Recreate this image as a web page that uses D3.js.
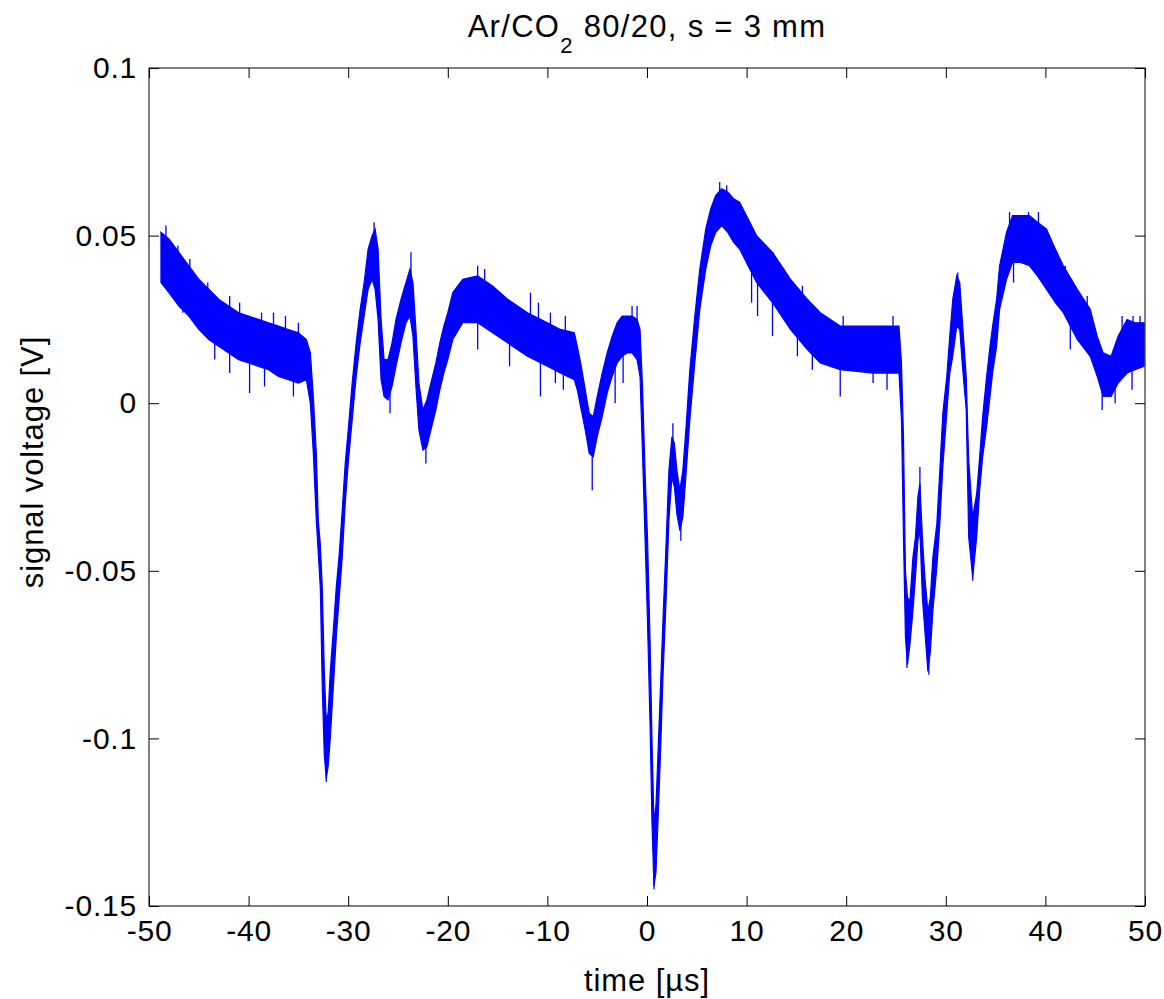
<!DOCTYPE html>
<html>
<head>
<meta charset="utf-8">
<script src="https://cdn.jsdelivr.net/npm/d3@7"></script>
<style>
  html, body { margin: 0; padding: 0; background: #fff; }
  svg { display: block; font-family: 'Liberation Sans', Arial, sans-serif; }
  .axis path { display: none; }
  .axis line { stroke: #000; }
  .axis text { font-size: 30px; fill: #000; letter-spacing: 0.8px; }
</style>
</head>
<body>
<div id="chart"></div>
<script>
// values: time in µs, band of the noisy trace in V
const time = [-48.8, -48, -47, -46, -45, -44, -43, -42, -41, -40, -39, -38, -37, -36, -35, -34.2,
  -33.8, -33.5, -33.2, -33.0, -32.8, -32.6, -32.4, -32.2, -32.0, -31.8, -31.5, -31.2, -30.9, -30.6, -30.3, -30.0,
  -29.6, -29.2, -28.8, -28.4, -28.0, -27.6, -27.3, -27.0, -26.7, -26.4, -26.0, -25.6, -25.2, -24.7, -24.2, -23.8,
  -23.5, -23.2, -22.9, -22.5, -22.1, -21.7, -21.2, -20.8, -20.4, -20.0, -19.5, -18.5, -17, -15.5, -14, -12, -10,
  -8.7, -7.3, -7.0, -6.6, -6.2, -5.8, -5.4, -5.0, -4.5, -4.0, -3.5, -3.0, -2.5, -2.0, -1.5, -1.0, -0.7, -0.45,
  -0.2, 0.05, 0.3, 0.5, 0.7, 0.9, 1.1, 1.35, 1.6, 1.9, 2.2, 2.5, 2.75, 3.0, 3.3, 3.6, 3.9, 4.3, 4.8, 5.3, 5.9,
  6.4, 6.9, 7.5, 8.1, 8.7, 9.3, 11, 12.6, 14.4, 16.1, 17.4, 19.4, 22.7, 25.3, 25.55, 25.75, 25.95, 26.15, 26.4,
  26.7, 26.95, 27.2, 27.4, 27.65, 27.9, 28.2, 28.45, 28.7, 29.1, 29.4, 29.7, 30.1, 30.4, 30.7, 31.1, 31.4, 31.7,
  32.05, 32.3, 32.7, 33.1, 33.4, 33.7, 34.1, 34.4, 34.7, 35.1, 35.4, 36.1, 36.7, 37.5, 38.4, 39.2, 40.1, 41.0,
  41.8, 43.2, 44.5, 45.2, 45.8, 46.6, 47.3, 48.2, 49, 49.9]

const lower = [0.036, 0.033, 0.029, 0.026, 0.022, 0.019, 0.017, 0.015, 0.013, 0.012, 0.011, 0.010, 0.008, 0.007, 0.006, 0.007,
  0.000, -0.015, -0.035, -0.045, -0.055, -0.085, -0.105, -0.112, -0.108, -0.100, -0.085, -0.070, -0.058, -0.046, -0.030, -0.018,
  -0.005, 0.008, 0.018, 0.026, 0.034, 0.037, 0.034, 0.025, 0.007, 0.002, 0.001, 0.005, 0.011, 0.018, 0.024, 0.026,
  0.020, 0.005, -0.008, -0.014, -0.013, -0.008, -0.002, 0.004, 0.009, 0.013, 0.019, 0.024, 0.024, 0.021, 0.018, 0.014, 0.011,
  0.009, 0.007, 0.004, -0.002, -0.008, -0.015, -0.016, -0.010, -0.004, 0.003, 0.008, 0.012, 0.014, 0.015, 0.015, 0.013, 0.008, -0.015,
  -0.040, -0.065, -0.095, -0.125, -0.144, -0.140, -0.125, -0.105, -0.082, -0.060, -0.035, -0.022, -0.025, -0.033, -0.038, -0.034, -0.022, -0.005, 0.012, 0.028, 0.040,
  0.047, 0.051, 0.053, 0.051, 0.048, 0.046, 0.036, 0.030, 0.022, 0.016, 0.012, 0.010, 0.009, 0.009, -0.005, -0.040, -0.070, -0.078, -0.072,
  -0.062, -0.052, -0.041, -0.038, -0.058, -0.068, -0.080, -0.074, -0.062, -0.049, -0.036, -0.019, -0.003, 0.009, 0.014, 0.023, 0.022, 0.010,
  -0.002, -0.040, -0.052, -0.040, -0.026, -0.016, -0.007, 0.001, 0.009, 0.017, 0.028, 0.037, 0.042, 0.042, 0.041, 0.038, 0.034, 0.030,
  0.027, 0.019, 0.014, 0.008, 0.002, 0.002, 0.006, 0.009, 0.010, 0.011]

const upper = [0.051, 0.049, 0.045, 0.041, 0.037, 0.034, 0.031, 0.029, 0.027, 0.026, 0.025, 0.024, 0.023, 0.022, 0.021, 0.019,
  0.015, 0.002, -0.015, -0.035, -0.042, -0.055, -0.080, -0.095, -0.092, -0.080, -0.068, -0.055, -0.045, -0.032, -0.018, -0.008,
  0.006, 0.018, 0.028, 0.036, 0.046, 0.050, 0.052, 0.046, 0.025, 0.013, 0.013, 0.018, 0.025, 0.031, 0.036, 0.040,
  0.036, 0.022, 0.006, -0.002, 0.001, 0.006, 0.012, 0.018, 0.023, 0.027, 0.033, 0.037, 0.038, 0.035, 0.031, 0.027, 0.024,
  0.022, 0.021, 0.017, 0.011, 0.004, -0.003, -0.004, 0.002, 0.009, 0.015, 0.020, 0.024, 0.026, 0.026, 0.026, 0.025, 0.022, 0.005,
  -0.020, -0.040, -0.070, -0.100, -0.125, -0.120, -0.105, -0.085, -0.065, -0.043, -0.020, -0.010, -0.012, -0.020, -0.026, -0.020, -0.008, 0.010, 0.026, 0.040, 0.052,
  0.058, 0.062, 0.064, 0.063, 0.061, 0.060, 0.050, 0.045, 0.037, 0.031, 0.027, 0.023, 0.023, 0.023, 0.012, -0.010, -0.050, -0.058, -0.059,
  -0.046, -0.040, -0.028, -0.024, -0.040, -0.052, -0.062, -0.058, -0.046, -0.036, -0.020, -0.003, 0.008, 0.020, 0.031, 0.038, 0.036, 0.023,
  0.008, -0.017, -0.034, -0.027, -0.016, -0.004, 0.008, 0.016, 0.023, 0.031, 0.041, 0.051, 0.056, 0.056, 0.056, 0.054, 0.052, 0.046,
  0.041, 0.034, 0.028, 0.020, 0.015, 0.014, 0.020, 0.025, 0.024, 0.024]

// single-sample excursions that stick out of the band: [time, value]
const spikes = [[-48.3, 0.053], [-47.1, 0.047], [-45.9, 0.043], [-44.1, 0.036], [-41.9, 0.032], [-40.9, 0.030],
  [-38.7, 0.027], [-37.5, 0.027], [-36.3, 0.026], [-35.0, 0.024], [-46.6, 0.027], [-43.4, 0.013], [-41.9, 0.009],
  [-39.9, 0.003], [-38.4, 0.005], [-35.5, 0.002], [-32.2, -0.113], [-27.4, 0.054], [-25.8, -0.003], [-23.7, 0.045],
  [-22.2, -0.018], [-17.0, 0.041], [-16.3, 0.040], [-17.0, 0.016], [-13.8, 0.011], [-11.7, 0.033], [-10.9, 0.030],
  [-10.7, 0.002], [-9.7, 0.027], [-9.2, 0.006], [-8.4, 0.004], [-8.2, 0.026], [-5.5, -0.026], [-3.2, 0.000],
  [-2.4, 0.006], [-1.5, 0.029], [-1.0, 0.029], [0.7, -0.145], [2.6, -0.006], [3.4, -0.041], [7.3, 0.066], [8.0, 0.065],
  [10.5, 0.030], [10.6, 0.052], [11.1, 0.026], [11.5, 0.048], [12.6, 0.020], [12.7, 0.045], [13.5, 0.041], [15.1, 0.014],
  [15.6, 0.035], [16.6, 0.010], [19.4, 0.002], [19.7, 0.026], [22.7, 0.006], [24.1, 0.004], [24.7, 0.026],
  [26.1, -0.079], [27.4, -0.019], [28.3, -0.081], [31.2, 0.039], [32.7, -0.053], [36.4, 0.057], [36.8, 0.036],
  [38.3, 0.057], [39.3, 0.057], [39.7, 0.036], [42.0, 0.041], [42.5, 0.016], [44.2, 0.032], [45.7, -0.002],
  [47.0, 0.000], [47.7, 0.026], [48.7, 0.004], [48.8, 0.026], [49.5, 0.026]]

const xTicks = [-50, -40, -30, -20, -10, 0, 10, 20, 30, 40, 50]
const yTicks = [-0.15, -0.1, -0.05, 0, 0.05, 0.1]

const W = 1164
const H = 999
const box = { left: 149, right: 1145, top: 68, bottom: 906 }

const x = d3.scaleLinear().domain([-50, 50]).range([box.left, box.right])
const y = d3.scaleLinear().domain([-0.15, 0.1]).range([box.bottom, box.top])

const svg = d3.select('#chart').append('svg')
  .attr('width', W)
  .attr('height', H)

const trace = time.map((t, i) => ({ t, lo: lower[i], hi: upper[i] }))

// the trace itself, drawn as the band that the noise fills
svg.append('path')
  .datum(trace)
  .attr('d', d3.area()
    .x(d => x(d.t))
    .y0(d => y(d.lo))
    .y1(d => y(d.hi)))
  .attr('fill', '#0000ff')
  .attr('stroke', '#0000ff')
  .attr('stroke-width', 1.2)

// spikes start from the middle of the band at that time
const bisect = d3.bisector(d => d.t).left
const bandMid = (t) => {
  const i = Math.max(1, Math.min(trace.length - 1, bisect(trace, t)))
  const a = trace[i - 1]
  const b = trace[i]
  const k = (t - a.t) / (b.t - a.t)
  return ((a.lo + a.hi) / 2) * (1 - k) + ((b.lo + b.hi) / 2) * k
}

svg.append('g')
  .selectAll('line')
  .data(spikes)
  .enter().append('line')
  .attr('x1', d => x(d[0]))
  .attr('x2', d => x(d[0]))
  .attr('y1', d => y(bandMid(d[0])))
  .attr('y2', d => y(d[1]))
  .attr('stroke', '#0000ff')
  .attr('stroke-width', 1.3)

// axes, MATLAB style: ticks pointing in on all four sides
svg.append('g')
  .attr('class', 'axis')
  .attr('transform', `translate(0,${box.bottom})`)
  .call(d3.axisBottom(x).tickValues(xTicks).tickSizeInner(-10).tickSizeOuter(0).tickPadding(14).tickFormat(d3.format('d')))

svg.append('g')
  .attr('class', 'axis')
  .attr('transform', `translate(0,${box.top})`)
  .call(d3.axisTop(x).tickValues(xTicks).tickSizeInner(-10).tickSizeOuter(0).tickFormat(''))

svg.append('g')
  .attr('class', 'axis')
  .attr('transform', `translate(${box.left},0)`)
  .call(d3.axisLeft(y).tickValues(yTicks).tickSizeInner(-10).tickSizeOuter(0).tickPadding(12).tickFormat(d => d3.format('')(+d.toFixed(2))))

svg.append('g')
  .attr('class', 'axis')
  .attr('transform', `translate(${box.right},0)`)
  .call(d3.axisRight(y).tickValues(yTicks).tickSizeInner(-10).tickSizeOuter(0).tickFormat(''))

svg.selectAll('.axis text').text(function () { return this.textContent.replace('−', '-') })

svg.append('rect')
  .attr('x', box.left)
  .attr('y', box.top)
  .attr('width', box.right - box.left)
  .attr('height', box.bottom - box.top)
  .attr('fill', 'none')
  .attr('stroke', '#000')
  .attr('stroke-width', 1)

// title with subscript
const title = svg.append('text')
  .attr('x', (box.left + box.right) / 2)
  .attr('y', 37)
  .attr('text-anchor', 'middle')
  .style('font-size', '31px')
  .style('letter-spacing', '1.3px')
title.append('tspan').text('Ar/CO')
title.append('tspan').text('2').attr('dy', 16).style('font-size', '22px')
title.append('tspan').text(' 80/20, s = 3 mm').attr('dy', -16)

svg.append('text')
  .attr('x', (box.left + box.right) / 2)
  .attr('y', 991)
  .attr('text-anchor', 'middle')
  .style('font-size', '31px')
  .style('letter-spacing', '0.9px')
  .text('time [\u00b5s]')

svg.append('text')
  .attr('transform', 'translate(43,462) rotate(-90)')
  .attr('text-anchor', 'middle')
  .style('font-size', '31px')
  .style('letter-spacing', '0.9px')
  .text('signal voltage [V]')
</script>
</body>
</html>
